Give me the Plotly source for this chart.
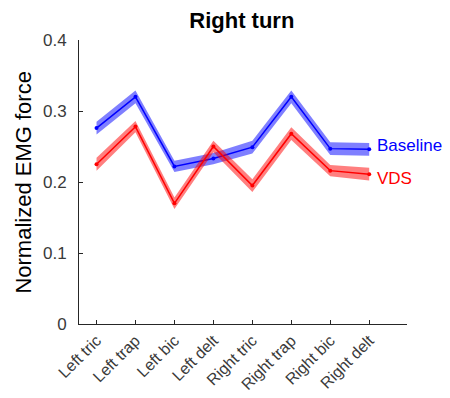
import plotly.graph_objects as go

muscles = ["Left tric", "Left trap", "Left bic", "Left delt",
           "Right tric", "Right trap", "Right bic", "Right delt"]
baseline_mean = [0.276, 0.320, 0.222, 0.233, 0.249, 0.320, 0.247, 0.246]
baseline_err = [0.009, 0.009, 0.008, 0.008, 0.009, 0.009, 0.009, 0.009]
vds_mean = [0.225, 0.278, 0.170, 0.250, 0.195, 0.268, 0.216, 0.211]
vds_err = [0.009, 0.008, 0.008, 0.008, 0.009, 0.009, 0.008, 0.009]

x = list(range(1, len(muscles) + 1))
FONT = "Liberation Sans, Arial, Helvetica"

fig = go.Figure()

def add_series(mean, err, line_color, fill_color, name):
    upper = [m + e for m, e in zip(mean, err)]
    lower = [m - e for m, e in zip(mean, err)]
    fig.add_trace(go.Scatter(
        x=x + x[::-1], y=upper + lower[::-1],
        fill="toself", fillcolor=fill_color,
        line=dict(width=0), mode="lines", hoverinfo="skip", showlegend=False))
    fig.add_trace(go.Scatter(
        x=x, y=mean, mode="lines+markers", name=name,
        line=dict(color=line_color, width=1.5),
        marker=dict(color=line_color, size=4), showlegend=False))

add_series(baseline_mean, baseline_err, "#0000ff", "rgba(0,0,255,0.5)", "Baseline")
add_series(vds_mean, vds_err, "#ff0000", "rgba(255,0,0,0.5)", "VDS")

fig.add_annotation(x=x[-1], y=baseline_mean[-1], text="Baseline", xanchor="left",
                   yanchor="middle", xshift=6, yshift=4, showarrow=False,
                   font=dict(family=FONT, size=17, color="#0000ff"))
fig.add_annotation(x=x[-1], y=vds_mean[-1], text="VDS", xanchor="left",
                   yanchor="middle", xshift=6, yshift=-4, showarrow=False,
                   font=dict(family=FONT, size=17, color="#ff0000"))
fig.add_annotation(xref="paper", yref="paper", x=-0.172, y=0.5, text="Normalized EMG force",
                   textangle=-90, xanchor="center", yanchor="middle", showarrow=False,
                   font=dict(family=FONT, size=22, color="black"))

axis_color = "#262626"
tick_color = "#3a3a3a"
fig.update_layout(
    width=442, height=390,
    margin=dict(l=71, r=43, t=32, b=74),
    paper_bgcolor="white", plot_bgcolor="white",
    font=dict(family=FONT, color=axis_color),
    title=dict(text="<b>Right turn</b>", x=0.529, xanchor="center", y=0.969, yanchor="middle",
               font=dict(size=22, color="black")),
    xaxis=dict(range=[0.55, 8.97], tickmode="array", tickvals=x, ticktext=muscles,
               tickangle=-45, ticks="inside", ticklen=4, tickcolor=axis_color,
               showline=True, linecolor=axis_color, linewidth=1, showgrid=False,
               zeroline=False, automargin=False,
               tickfont=dict(size=16, color=tick_color)),
    yaxis=dict(range=[0, 0.4], tickvals=[0, 0.1, 0.2, 0.3, 0.4],
               ticktext=["0", "0.1", "0.2", "0.3", "0.4"],
               ticks="inside", ticklen=4, tickcolor=axis_color,
               showline=True, linecolor=axis_color, linewidth=1, showgrid=False,
               zeroline=False, automargin=False, ticklabelstandoff=8,
               tickfont=dict(size=17, color=tick_color)),
)

fig.write_html("out.html")
